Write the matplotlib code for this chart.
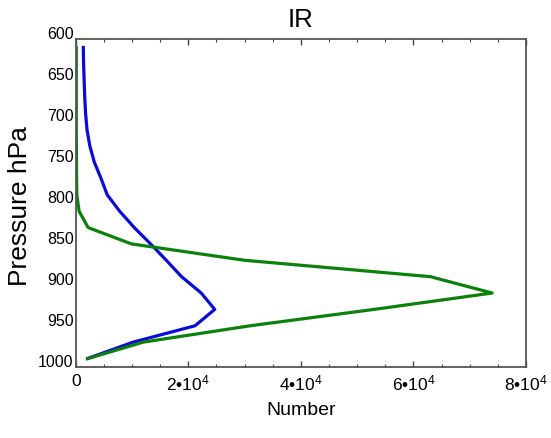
import matplotlib
matplotlib.use('Agg')
import matplotlib.pyplot as plt
from matplotlib.ticker import MultipleLocator, FuncFormatter

plt.rcParams['font.family'] = ['Liberation Sans', 'DejaVu Sans']
plt.rcParams['mathtext.fontset'] = 'custom'
plt.rcParams['mathtext.rm'] = 'Liberation Sans'

# pressure levels (hPa) and counts per level
pressure = [610, 630, 650, 670, 690, 710, 730, 750, 770, 790,
            810, 830, 850, 870, 890, 910, 930, 950, 970, 990]
blue_count = [1350, 1400, 1500, 1600, 1750, 2000, 2500, 3300, 4500, 5600,
              7800, 10400, 13300, 16100, 18800, 22300, 24700, 21200, 10200, 2100]
green_count = [100, 100, 100, 100, 100, 100, 120, 140, 150, 200,
               600, 2200, 9900, 30000, 63000, 74000, 53000, 31000, 12000, 2200]

xticks = [0, 20000, 40000, 60000, 80000]
yticks = [600, 650, 700, 750, 800, 850, 900, 950, 1000]


def sci_label(v, pos):
    if v == 0:
        return '0'
    return '$\\mathregular{%d\u202210^4}$' % round(v / 1e4)


fig = plt.figure(figsize=(5.51, 4.38), dpi=100)
ax = fig.add_axes([0.1374, 0.1628, 0.8172, 0.7475])

ax.plot(blue_count, pressure, color='#0c0cd4', lw=2.3)
ax.plot(green_count, pressure, color='#0b800b', lw=2.3)

ax.set_xlim(0, 80000)
ax.set_ylim(1000, 600)
ax.set_xticks(xticks)
ax.xaxis.set_minor_locator(MultipleLocator(5000))
ax.xaxis.set_major_formatter(FuncFormatter(sci_label))
ax.set_yticks(yticks)

ax.tick_params(axis='x', which='both', direction='in', top=True, bottom=True,
               labelsize=12.5, pad=5, color='#444444')
ax.tick_params(axis='x', which='major', length=4.5, width=1)
ax.tick_params(axis='x', which='minor', length=2.5, width=0.8)
ax.tick_params(axis='y', which='both', length=0, labelsize=11.5, pad=1.5)
for lab in ax.get_yticklabels():
    lab.set_verticalalignment('baseline')

for sp in ax.spines.values():
    sp.set_color('#555555')
    sp.set_linewidth(1.3)

ax.set_title('IR', fontsize=18.5, pad=9)
ax.set_xlabel('Number', fontsize=14)
ax.xaxis.set_label_coords(0.5, -0.108)
ax.set_ylabel('Pressure hPa', fontsize=19)
ax.yaxis.set_label_coords(-0.097, 0.49)

fig.savefig('out.png', dpi=100)
